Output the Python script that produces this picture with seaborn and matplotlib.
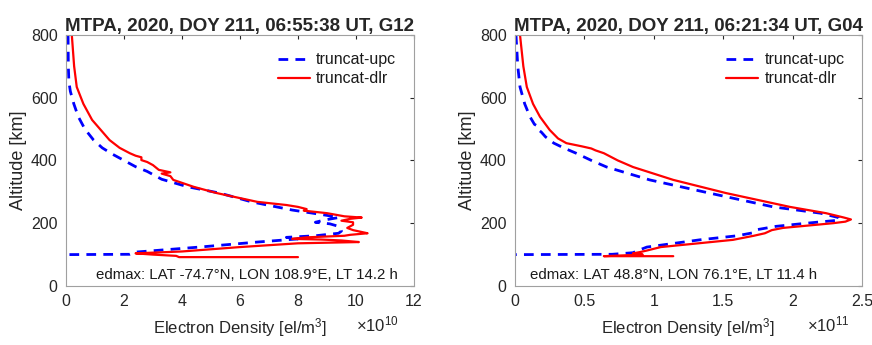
import matplotlib
matplotlib.use('Agg')
import matplotlib.pyplot as plt
import seaborn as sns
import pandas as pd

# left panel (G12), density in units of 1e10 el/m^3
alt_upc_g12 = [800, 700, 650, 620, 580, 540, 500, 465, 440, 420, 400, 380, 365,
               355, 340, 316, 296, 268, 242, 225, 218, 210, 203, 198, 190, 175,
               168, 160, 155, 150, 140, 124, 108, 101, 100]
ne_upc_g12 = [0.07, 0.08, 0.1, 0.15, 0.27, 0.42, 0.65, 0.95, 1.25, 1.6, 2.0, 2.4,
              2.8, 3.0, 3.3, 4.2, 5.3, 6.4, 7.8, 9.0, 9.4, 8.9, 8.6, 9.1, 9.4,
              9.5, 9.4, 8.6, 7.6, 8.0, 6.6, 4.6, 2.4, 2.2, 0.0]
alt_dlr_g12 = [800, 700, 634, 580, 529, 465, 440, 423, 415, 410, 401, 395, 385,
               370, 362, 358, 350, 338, 316, 296, 268, 258, 252, 245, 240, 232,
               222, 218, 214, 208, 203, 195, 185, 178, 172, 168, 163, 160, 155,
               150, 148, 145, 140, 136, 124, 110, 104, 100, 96, 92, 92]
ne_dlr_g12 = [0.2, 0.28, 0.37, 0.6, 0.9, 1.5, 1.85, 2.2, 2.4, 2.6, 2.6, 2.8, 3.0,
              3.2, 3.6, 3.3, 3.6, 3.7, 4.4, 5.2, 6.6, 7.6, 8.0, 8.3, 8.2, 9.0,
              9.6, 10.2, 9.8, 9.5, 9.9, 9.9, 9.7, 9.9, 10.2, 10.4, 9.8, 9.6, 8.3,
              7.8, 8.8, 9.5, 10.1, 8.0, 6.0, 4.0, 2.4, 3.0, 3.8, 3.9, 8.0]

# right panel (G04), density in units of 1e11 el/m^3
alt_upc_g04 = [800, 700, 634, 580, 539, 515, 510, 497, 490, 475, 455, 440, 423,
               400, 379, 338, 296, 252, 232, 218, 210, 200, 190, 180, 170, 160,
               147, 124, 112, 106, 101, 100]
ne_upc_g04 = [0.007, 0.02, 0.036, 0.07, 0.108, 0.14, 0.16, 0.17, 0.19, 0.22, 0.28,
              0.35, 0.44, 0.55, 0.66, 0.97, 1.4, 1.86, 2.2, 2.33, 2.34, 2.1, 1.88,
              1.75, 1.72, 1.6, 1.33, 0.95, 0.88, 0.85, 0.7, 0.0]
alt_dlr_g04 = [800, 700, 634, 580, 539, 497, 470, 455, 445, 438, 432, 423, 400,
               379, 338, 296, 252, 232, 218, 212, 205, 200, 190, 185, 178, 172,
               168, 160, 147, 124, 113, 108, 104, 100, 95, 95]
ne_dlr_g04 = [0.036, 0.06, 0.085, 0.13, 0.18, 0.25, 0.31, 0.37, 0.48, 0.55, 0.58,
              0.64, 0.74, 0.85, 1.14, 1.52, 1.98, 2.24, 2.37, 2.42, 2.38, 2.29,
              2.05, 1.93, 1.85, 1.82, 1.8, 1.72, 1.57, 1.05, 0.95, 0.9, 0.85, 0.92,
              0.64, 1.14]

titles = ['MTPA, 2020, DOY 211, 06:55:38 UT, G12',
          'MTPA, 2020, DOY 211, 06:21:34 UT, G04']
notes = ['edmax: LAT -74.7°N, LON 108.9°E, LT 14.2 h',
         'edmax: LAT 48.8°N, LON 76.1°E, LT 11.4 h']
exponents = ['10', '11']
xlims = [12, 2.5]
xticks = [[0, 2, 4, 6, 8, 10, 12], [0, 0.5, 1, 1.5, 2, 2.5]]
xticklabels = [['0', '2', '4', '6', '8', '10', '12'],
               ['0', '0.5', '1', '1.5', '2', '2.5']]


def draw_panel(fig, ax, upc, dlr, title, note, note_x, expo, expo_x, xmax,
               ticks, labels):
    df_upc = pd.DataFrame({'ne': upc[1], 'alt': upc[0]})
    df_dlr = pd.DataFrame({'ne': dlr[1], 'alt': dlr[0]})
    sns.lineplot(data=df_upc, x='ne', y='alt', sort=False, estimator=None,
                 ax=ax, color='#0000ff', linestyle='--', linewidth=2,
                 label='truncat-upc')
    ax.lines[-1].set_dashes((3.5, 2.6))
    sns.lineplot(data=df_dlr, x='ne', y='alt', sort=False, estimator=None,
                 ax=ax, color='#ff0000', linewidth=1.6, label='truncat-dlr')
    ax.set_xlim(0, xmax)
    ax.set_ylim(0, 800)
    ax.set_xticks(ticks)
    ax.set_xticklabels(labels)
    ax.set_yticks([0, 200, 400, 600, 800])
    ax.tick_params(direction='in', top=True, right=True, length=3,
                   labelsize=11.5, colors='#262626', pad=6)
    for s in ax.spines.values():
        s.set_color('#a0a0a0')
        s.set_linewidth(0.8)
    ax.set_title(title, fontsize=13.5, fontweight='bold', pad=3)
    ax.set_xlabel('Electron Density [el/m$^3$]', fontsize=12,
                  color='#262626', labelpad=5)
    ax.set_ylabel('Altitude [km]', fontsize=13, color='#262626', labelpad=3)
    ax.text(note_x, 0.044, note, transform=ax.transAxes, ha='left',
            va='center', fontsize=10.8, color='#1a1a1a')
    fig.text(expo_x, 0.06, r'$\times10^{%s}$' % expo, ha='right',
             va='center', fontsize=12, color='#262626')
    leg = ax.legend(loc='upper right', frameon=False, fontsize=11.5,
                    handlelength=2.0, handletextpad=0.4, borderaxespad=0.7,
                    labelspacing=0.25)
    for t in leg.get_texts():
        t.set_color('#1a1a1a')
    leg.legend_handles[0].set_dashes((3.5, 2.6))


def main():
    sns.set_style('white')
    plt.rcParams['font.family'] = ['Liberation Sans', 'DejaVu Sans']
    plt.rcParams['mathtext.fontset'] = 'custom'
    plt.rcParams['mathtext.rm'] = 'Liberation Sans'
    plt.rcParams['mathtext.it'] = 'Liberation Sans'
    fig = plt.figure(figsize=(8.72, 3.45), dpi=100)
    ax1 = fig.add_axes([0.0757, 0.171, 0.399, 0.728])
    ax2 = fig.add_axes([0.5906, 0.171, 0.398, 0.728])
    draw_panel(fig, ax1, (alt_upc_g12, ne_upc_g12), (alt_dlr_g12, ne_dlr_g12),
               titles[0], notes[0], 0.086, exponents[0], 0.457, xlims[0],
               xticks[0], xticklabels[0])
    draw_panel(fig, ax2, (alt_upc_g04, ne_upc_g04), (alt_dlr_g04, ne_dlr_g04),
               titles[1], notes[1], 0.043, exponents[1], 0.975, xlims[1],
               xticks[1], xticklabels[1])
    fig.savefig('out.png', dpi=100)


if __name__ == '__main__':
    main()
